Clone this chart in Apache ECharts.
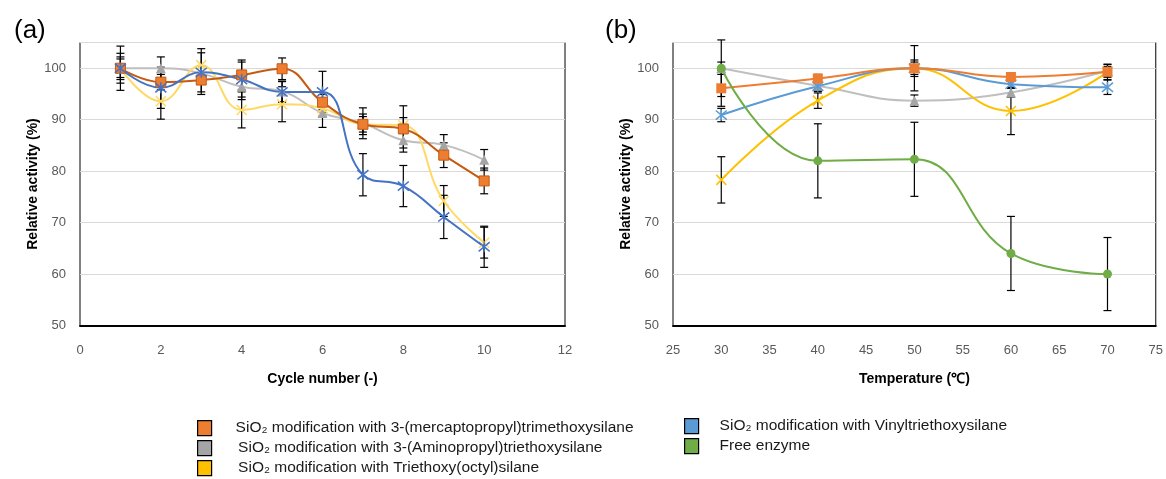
<!DOCTYPE html>
<html>
<head>
<meta charset="utf-8">
<script src="https://cdn.jsdelivr.net/npm/echarts@6/dist/echarts.min.js"></script>
<style>html,body{margin:0;padding:0;background:#fff}#c{width:1166px;height:479px}</style>
</head>
<body>
<div id="c"></div>
<script>
// ---- data ----
const cycles = [1, 2, 3, 4, 5, 6, 7, 8, 9, 10];
const cycMerc   = [100, 97.3, 97.7, 98.7, 99.9, 93.4, 89.1, 88.2, 83.1, 78.1];
const cycMercE  = [4.3, 1.5, 2.8, 2.9, 2.1, 1.5, 1.5, 4.5, 2.4, 2.5];
const cycAmino  = [100, 100, 99.0, 96.4, 95.5, 91.3, 89.3, 86.0, 85.1, 82.2];
const cycAminoE = [1.8, 2.2, 1.5, 2.5, 2.0, 2.8, 3.0, 1.5, 2.0, 2.0];
const cycOctyl  = [100, 93.6, 100.6, 91.9, 93.0, 92.2, 89.1, 88.9, 74.2, 66.1];
const cycOctylE = [2.9, 3.5, 3.2, 3.5, 3.4, 1.5, 2.0, 1.5, 3.0, 3.0];
const cycVinyl  = [100, 96.2, 99.2, 97.8, 95.4, 95.4, 79.3, 77.1, 71.1, 65.3];
const cycVinylE = [2.2, 4.0, 3.8, 3.4, 2.0, 4.0, 4.1, 4.0, 4.2, 4.0];

const temps = [30, 40, 50, 60, 70];
const tMerc   = [96.1, 98.0, 100, 98.3, 99.3];
const tMercE  = [3.5, 0.8, 4.4, 0.5, 1.5];
const tAmino  = [100, 96.6, 93.7, 95.3, 99.5];
const tAminoE = [1.2, 1.0, 1.1, 0.9, 1.2];
const tOctyl  = [78.3, 93.7, 100, 91.7, 99.3];
const tOctylE = [4.5, 1.5, 1.6, 4.6, 1.0];
const tVinyl  = [90.9, 96.5, 100, 96.9, 96.3];
const tVinylE = [1.3, 1.0, 1.2, 0.8, 1.4];
const tFree   = [100, 82.0, 82.3, 64.0, 60.0];
const tFreeE  = [5.5, 7.2, 7.2, 7.2, 7.1];

const cycTicks = [0, 2, 4, 6, 8, 10, 12];
const tempTicks = [25, 30, 35, 40, 45, 50, 55, 60, 65, 70, 75];
const yTicks = [50, 60, 70, 80, 90, 100];

const N_MERC = 'SiO₂ modification with 3-(mercaptopropyl)trimethoxysilane';
const N_AMINO = 'SiO₂ modification with 3-(Aminopropyl)triethoxysilane';
const N_OCTYL = 'SiO₂ modification with Triethoxy(octyl)silane';
const N_VINYL = 'SiO₂ modification with Vinyltriethoxysilane';
const N_FREE = 'Free enzyme';

// ---- styles ----
const SYM_X = 'path://M0,0L10,10M10,0L0,10';
const SYM_STAR = 'path://M0,0L10,10M10,0L0,10M5,-1L5,11';
const FONT = 'Liberation Sans, Arial, sans-serif';

function lineSeries(name, xs, ys, gi, o) {
  return {
    type: 'line', name, xAxisIndex: gi, yAxisIndex: gi,
    data: xs.map((x, i) => [x, ys[i]]),
    smooth: 0.45, z: 3,
    symbol: o.symbol, symbolSize: o.size,
    lineStyle: { color: o.line, width: 2 },
    itemStyle: o.item,
    emphasis: { disabled: true }
  };
}
function errSeries(name, xs, ys, es, gi) {
  return {
    type: 'custom', name, xAxisIndex: gi, yAxisIndex: gi, z: 2,
    data: xs.map((x, i) => [x, ys[i] - es[i], ys[i] + es[i]]),
    encode: { x: 0, y: [1, 2] },
    renderItem: function (params, api) {
      const x = api.value(0);
      const a = api.coord([x, api.value(2)]);
      const b = api.coord([x, api.value(1)]);
      const w = 4, st = { stroke: '#000', lineWidth: 1.2 };
      return { type: 'group', children: [
        { type: 'line', shape: { x1: a[0], y1: a[1], x2: b[0], y2: b[1] }, style: st },
        { type: 'line', shape: { x1: a[0] - w, y1: a[1], x2: a[0] + w, y2: a[1] }, style: st },
        { type: 'line', shape: { x1: b[0] - w, y1: b[1], x2: b[0] + w, y2: b[1] }, style: st }
      ]};
    },
    silent: true
  };
}

const sqA = { symbol: 'rect', size: 10, line: '#C55A11', item: { color: '#ED7D31', borderColor: '#C55A11', borderWidth: 1 } };
const trA = { symbol: 'triangle', size: 10, line: '#BFBFBF', item: { color: '#A5A5A5' } };
const xA  = { symbol: SYM_X, size: 10, line: '#FFD966', item: { color: 'none', borderColor: '#FFD966', borderWidth: 1.5 } };
const stA = { symbol: SYM_STAR, size: 11, line: '#4472C4', item: { color: 'none', borderColor: '#4472C4', borderWidth: 1.5 } };

const sqB = { symbol: 'rect', size: 10, line: '#ED7D31', item: { color: '#ED7D31' } };
const trB = { symbol: 'triangle', size: 10, line: '#BFBFBF', item: { color: '#A5A5A5' } };
const xB  = { symbol: SYM_X, size: 10, line: '#FFC000', item: { color: 'none', borderColor: '#FFC000', borderWidth: 1.5 } };
const stB = { symbol: SYM_STAR, size: 11, line: '#5B9BD5', item: { color: 'none', borderColor: '#5B9BD5', borderWidth: 1.5 } };
const ciB = { symbol: 'circle', size: 9, line: '#70AD47', item: { color: '#70AD47' } };

function xAxisOf(gi, min, max, interval, name, ticks) {
  return {
    type: 'value', gridIndex: gi, min, max, interval,
    name, nameLocation: 'middle', nameGap: 47,
    nameTextStyle: { fontFamily: FONT, fontSize: 14, fontWeight: 'bold', color: '#000' },
    axisLine: { show: true, lineStyle: { color: '#000', width: 2 } },
    axisTick: { show: false },
    splitLine: { show: false },
    axisLabel: { margin: 18, fontFamily: FONT, fontSize: 13, color: '#595959',
      formatter: v => ticks.indexOf(v) >= 0 ? String(v) : '' }
  };
}
function yAxisOf(gi) {
  return {
    type: 'value', gridIndex: gi, min: 50, max: 105, interval: 10,
    name: 'Relative activity (%)', nameLocation: 'middle', nameGap: 40,
    nameTextStyle: { fontFamily: FONT, fontSize: 14, fontWeight: 'bold', color: '#000' },
    axisLine: { show: false },
    axisTick: { show: false },
    splitLine: { show: true, lineStyle: { color: '#D9D9D9', width: 1 } },
    axisLabel: { margin: 14, fontFamily: FONT, fontSize: 13, color: '#595959',
      formatter: v => yTicks.indexOf(v) >= 0 ? String(v) : '' }
  };
}

// one legend per entry so each row can sit exactly where it does in the figure
function legendOf(name, color, left, top, spacer) {
  return {
    left, top, padding: 0, orient: 'vertical', itemWidth: 14, itemHeight: 15, selectedMode: false,
    formatter: n => '{s|}' + n,
    textStyle: { fontFamily: FONT, fontSize: 15.5, color: '#1a1a1a', rich: { s: { width: spacer } } },
    data: [{ name, icon: 'rect', itemStyle: { color, borderColor: '#000', borderWidth: 1.2 } }]
  };
}

const option = {
  animation: false,
  backgroundColor: '#fff',
  title: [
    { text: '(a)', left: 9, top: 13, textStyle: { fontFamily: FONT, fontSize: 26, fontWeight: 'normal', color: '#000' } },
    { text: '(b)', left: 600, top: 13, textStyle: { fontFamily: FONT, fontSize: 26, fontWeight: 'normal', color: '#000' } }
  ],
  grid: [
    { left: 80, top: 42.5, width: 485, height: 283, show: true, borderColor: '#000', borderWidth: 1, backgroundColor: 'transparent' },
    { left: 673, top: 42.5, width: 484.5, height: 283, show: true, borderColor: '#000', borderWidth: 1, backgroundColor: 'transparent' }
  ],
  xAxis: [
    xAxisOf(0, 0, 12, 2, 'Cycle number (-)', cycTicks),
    xAxisOf(1, 25, 75, 5, 'Temperature (℃)', tempTicks)
  ],
  yAxis: [yAxisOf(0), yAxisOf(1)],
  legend: [
    legendOf(N_MERC, '#ED7D31', 197, 420, 19),
    legendOf(N_AMINO, '#A5A5A5', 197, 440, 21.5),
    legendOf(N_OCTYL, '#FFC000', 197, 460, 21.5),
    legendOf(N_VINYL, '#5B9BD5', 684, 418, 16),
    legendOf(N_FREE, '#70AD47', 684, 438, 16)
  ],
  series: [
    errSeries(N_MERC, cycles, cycMerc, cycMercE, 0),
    errSeries(N_AMINO, cycles, cycAmino, cycAminoE, 0),
    errSeries(N_OCTYL, cycles, cycOctyl, cycOctylE, 0),
    errSeries(N_VINYL, cycles, cycVinyl, cycVinylE, 0),
    lineSeries(N_AMINO, cycles, cycAmino, 0, trA),
    lineSeries(N_OCTYL, cycles, cycOctyl, 0, xA),
    lineSeries(N_MERC, cycles, cycMerc, 0, sqA),
    lineSeries(N_VINYL, cycles, cycVinyl, 0, stA),

    errSeries(N_MERC, temps, tMerc, tMercE, 1),
    errSeries(N_AMINO, temps, tAmino, tAminoE, 1),
    errSeries(N_OCTYL, temps, tOctyl, tOctylE, 1),
    errSeries(N_VINYL, temps, tVinyl, tVinylE, 1),
    errSeries(N_FREE, temps, tFree, tFreeE, 1),
    lineSeries(N_AMINO, temps, tAmino, 1, trB),
    lineSeries(N_OCTYL, temps, tOctyl, 1, xB),
    lineSeries(N_VINYL, temps, tVinyl, 1, stB),
    lineSeries(N_MERC, temps, tMerc, 1, sqB),
    lineSeries(N_FREE, temps, tFree, 1, ciB)
  ]
};

const chart = echarts.init(document.getElementById('c'), null, { renderer: 'canvas' });
chart.setOption(option);
</script>
</body>
</html>
